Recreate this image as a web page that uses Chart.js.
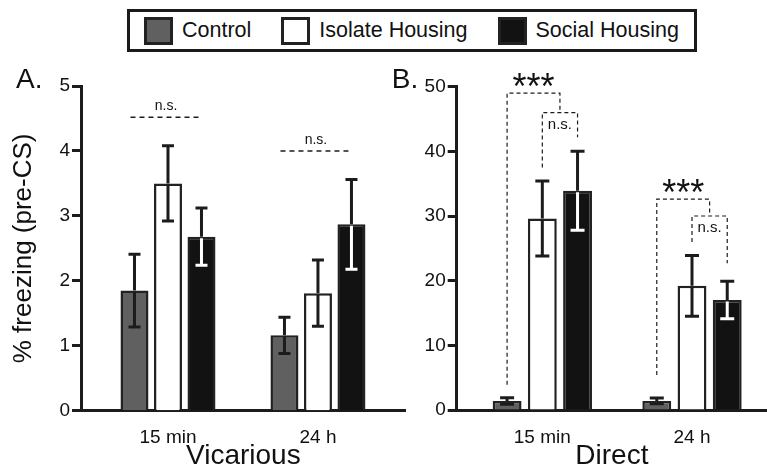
<!DOCTYPE html>
<html>
<head>
<meta charset="utf-8">
<script src="https://cdn.jsdelivr.net/npm/chart.js@4"></script>
<style>
body { margin: 0; background: #fff; width: 767px; height: 470px; overflow: hidden; position: relative; font-family: "Liberation Sans", Arial, sans-serif; }
#chart-a { position: absolute; left: 0; top: 0; }
#chart-b { position: absolute; left: 380px; top: 0; }
#legenda { position: absolute; left: 127px; top: 9px; width: 570px; height: 43px; box-sizing: border-box; border: 3px solid #1a1a1a; display: flex; align-items: center; padding-left: 14px; }
.item { display: flex; align-items: center; flex-shrink: 0; white-space: nowrap; margin-right: 30px; font-size: 21.5px; color: #111; }
.sw { width: 29px; height: 28px; flex-shrink: 0; box-sizing: border-box; border: 3px solid #222; margin-right: 9px; }
</style>
</head>
<body>
<div id="legenda"></div>
<canvas id="chart-a" width="420" height="470"></canvas>
<canvas id="chart-b" width="387" height="470"></canvas>
<script>
// dados
const grupos = ['Control', 'Isolate Housing', 'Social Housing'];
const tempos = ['15 min', '24 h'];
const xPos = [1, 2];

const vicControl = [1.85, 1.16];
const vicIsolado = [3.50, 1.81];
const vicSocial = [2.68, 2.87];
const vicErrControl = [0.56, 0.28];
const vicErrIsolado = [0.58, 0.51];
const vicErrSocial = [0.44, 0.69];

const dirControl = [1.4, 1.4];
const dirIsolado = [29.6, 19.2];
const dirSocial = [33.9, 17.0];
const dirErrControl = [0.5, 0.45];
const dirErrIsolado = [5.8, 4.7];
const dirErrSocial = [6.1, 2.9];

const ticksVic = [0, 1, 2, 3, 4, 5];
const ticksDir = [0, 10, 20, 30, 40, 50];

// n.s. (vicarious) e colchetes (direct)
const nsVic = [4.52, 4.0];
const estrelasTopo = [49, 32.6];
const nsTopo = [46, 30];
const pernaControl = [3.9, 5.4];
const pernaIsolado = [37.5, 26];
const pernaSocial = [42.2, 22.7];

const coresGrupo = ['#606060', '#ffffff', '#121212'];
const corLinha = '#1c1c1c';

Chart.defaults.font.family = '"Liberation Sans", Arial, sans-serif';
Chart.defaults.color = '#111';

const legenda = document.getElementById('legenda');
grupos.forEach((nome, i) => {
    const item = document.createElement('div');
    item.className = 'item';
    const sw = document.createElement('div');
    sw.className = 'sw';
    sw.style.background = coresGrupo[i];
    item.appendChild(sw);
    const txt = document.createElement('span');
    txt.textContent = nome;
    item.appendChild(txt);
    legenda.appendChild(item);
});

function montarDatasets(valores, catPct, barPct) {
    return valores.map((serie, i) => ({
        label: grupos[i],
        data: serie.map((v, k) => ({ x: xPos[k], y: v })),
        backgroundColor: coresGrupo[i],
        borderColor: '#222',
        borderWidth: 2.5,
        categoryPercentage: catPct,
        barPercentage: barPct
    }));
}

function plugErros(erros, capW, letra) {
    return {
        id: 'erros',
        afterDatasetsDraw(chart) {
            const ctx = chart.ctx;
            const y = chart.scales.y;
            ctx.save();
            ctx.lineWidth = 3;
            chart.data.datasets.forEach((ds, d) => {
                const meta = chart.getDatasetMeta(d);
                meta.data.forEach((bar, i) => {
                    const v = ds.data[i].y;
                    const e = erros[d][i];
                    const yTop = y.getPixelForValue(v + e);
                    const yBar = y.getPixelForValue(v);
                    const yLow = y.getPixelForValue(v - e);
                    const dentro = d === 2 ? '#ffffff' : corLinha;
                    ctx.strokeStyle = corLinha;
                    ctx.beginPath();
                    ctx.moveTo(bar.x, yBar);
                    ctx.lineTo(bar.x, yTop);
                    ctx.moveTo(bar.x - capW / 2, yTop);
                    ctx.lineTo(bar.x + capW / 2, yTop);
                    ctx.stroke();
                    ctx.strokeStyle = dentro;
                    ctx.beginPath();
                    ctx.moveTo(bar.x, yBar + 1.5);
                    ctx.lineTo(bar.x, yLow);
                    ctx.moveTo(bar.x - capW / 2, yLow);
                    ctx.lineTo(bar.x + capW / 2, yLow);
                    ctx.stroke();
                });
            });
            ctx.fillStyle = '#111';
            ctx.font = '28px "Liberation Sans", Arial, sans-serif';
            ctx.textAlign = 'left';
            ctx.textBaseline = 'alphabetic';
            ctx.fillText(letra, chart.chartArea.left - 65, 88);
            ctx.restore();
        }
    };
}

const plugNsVic = {
    id: 'nsVic',
    afterDatasetsDraw(chart) {
        const ctx = chart.ctx;
        const y = chart.scales.y;
        const c = chart.getDatasetMeta(0).data;
        const s = chart.getDatasetMeta(2).data;
        ctx.save();
        ctx.strokeStyle = corLinha;
        ctx.lineWidth = 1.5;
        ctx.setLineDash([5, 4]);
        ctx.fillStyle = '#111';
        ctx.font = '14px "Liberation Sans", Arial, sans-serif';
        ctx.textAlign = 'center';
        ctx.textBaseline = 'middle';
        nsVic.forEach((v, i) => {
            const py = y.getPixelForValue(v);
            ctx.beginPath();
            ctx.moveTo(c[i].x - 4, py);
            ctx.lineTo(s[i].x, py);
            ctx.stroke();
            ctx.fillText('n.s.', (c[i].x - 4 + s[i].x) / 2, py - 11);
        });
        ctx.restore();
    }
};

const plugColchetes = {
    id: 'colchetes',
    afterDatasetsDraw(chart) {
        const ctx = chart.ctx;
        const y = chart.scales.y;
        const c = chart.getDatasetMeta(0).data;
        const iso = chart.getDatasetMeta(1).data;
        const s = chart.getDatasetMeta(2).data;
        ctx.save();
        ctx.strokeStyle = corLinha;
        ctx.lineWidth = 1.2;
        ctx.setLineDash([4, 3]);
        ctx.fillStyle = '#111';
        estrelasTopo.forEach((v, i) => {
            const yOut = y.getPixelForValue(v);
            const yIn = y.getPixelForValue(nsTopo[i]);
            const meio = (iso[i].x + s[i].x) / 2;
            ctx.beginPath();
            ctx.moveTo(c[i].x, y.getPixelForValue(pernaControl[i]));
            ctx.lineTo(c[i].x, yOut);
            ctx.lineTo(meio, yOut);
            ctx.lineTo(meio, yIn);
            ctx.moveTo(iso[i].x, y.getPixelForValue(pernaIsolado[i]));
            ctx.lineTo(iso[i].x, yIn);
            ctx.lineTo(s[i].x, yIn);
            ctx.lineTo(s[i].x, y.getPixelForValue(pernaSocial[i]));
            ctx.stroke();
            ctx.textAlign = 'center';
            ctx.textBaseline = 'alphabetic';
            ctx.font = '36px "Liberation Sans", Arial, sans-serif';
            ctx.fillText('***', (c[i].x + meio) / 2, yOut + 6);
            ctx.textBaseline = 'middle';
            ctx.font = '15px "Liberation Sans", Arial, sans-serif';
            ctx.fillText('n.s.', meio, yIn + 12);
        });
        ctx.restore();
    }
};

function eixos(minX, maxX, alturaX, larguraY, ticksY, maxY, tituloX, tituloY) {
    return {
        x: {
            type: 'linear', min: minX, max: maxX, offset: false,
            afterFit: (s) => { s.height = alturaX; },
            afterBuildTicks: (s) => { s.ticks = xPos.map(v => ({ value: v })); },
            ticks: { callback: (v, i) => tempos[i], font: { size: 19 }, padding: 16, maxRotation: 0, autoSkip: false },
            grid: { display: false, drawTicks: false, offset: false },
            border: { color: corLinha, width: 3 },
            title: { display: true, text: tituloX, font: { size: 28, lineHeight: 1 }, padding: { top: 0, bottom: 0 } }
        },
        y: {
            min: 0, max: maxY,
            afterFit: (s) => { s.width = larguraY; },
            afterBuildTicks: (s) => { s.ticks = ticksY.map(v => ({ value: v })); },
            ticks: { font: { size: 19 }, padding: 2 },
            grid: { drawOnChartArea: false, tickLength: 9, tickWidth: 3, color: corLinha },
            border: { color: corLinha, width: 3 },
            title: { display: !!tituloY, text: tituloY, font: { size: 26 }, padding: { top: 8 } }
        }
    };
}

const chartA = new Chart(document.getElementById('chart-a'), {
    type: 'bar',
    data: { datasets: montarDatasets([vicControl, vicIsolado, vicSocial], 0.67, 0.836) },
    options: {
        responsive: false,
        animation: false,
        layout: { padding: { top: 86, left: 0, right: 14.3, bottom: 0 } },
        plugins: { legend: { display: false }, tooltip: { enabled: false } },
        scales: eixos(0.42, 2.585, 59.3, 81, ticksVic, 5, 'Vicarious', '% freezing (pre-CS)')
    },
    plugins: [plugErros([vicErrControl, vicErrIsolado, vicErrSocial], 12, 'A.'), plugNsVic]
});

const chartB = new Chart(document.getElementById('chart-b'), {
    type: 'bar',
    data: { datasets: montarDatasets([dirControl, dirIsolado, dirSocial], 0.706, 0.82) },
    options: {
        responsive: false,
        animation: false,
        layout: { padding: { top: 86.7, left: 0, right: 0, bottom: 0 } },
        plugins: { legend: { display: false }, tooltip: { enabled: false } },
        scales: eixos(0.428, 2.501, 60, 76.7, ticksDir, 50, 'Direct', '')
    },
    plugins: [plugErros([dirErrControl, dirErrIsolado, dirErrSocial], 14, 'B.'), plugColchetes]
});
</script>
</body>
</html>
